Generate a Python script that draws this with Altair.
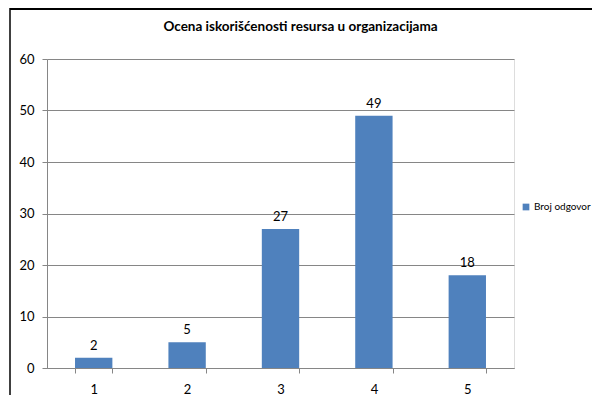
import altair as alt
import pandas as pd

categories = ["1", "2", "3", "4", "5"]
values = [2, 5, 27, 49, 18]
series_name = "Broj odgovor"
title_text = "Ocena iskorišćenosti resursa u organizacijama"
y_ticks = [0, 10, 20, 30, 40, 50, 60]

df = pd.DataFrame({"ocena": categories, "broj": values, "serija": [series_name] * len(categories)})

FONT = "Lato"
GRID = "#868686"

x_enc = alt.X(
    "ocena:N",
    sort=categories,
    title=None,
    scale=alt.Scale(paddingInner=0.6, paddingOuter=0.3),
    axis=alt.Axis(
        labelAngle=0, tickBand="extent", tickSize=5, labelPadding=10,
        domainColor=GRID, tickColor=GRID, labelFontSize=13, labelColor="#000000",
        labelFont=FONT, grid=False,
    ),
)
y_enc = alt.Y(
    "broj:Q",
    title=None,
    scale=alt.Scale(domain=[0, 60], nice=False),
    axis=alt.Axis(
        values=y_ticks, tickSize=5, labelPadding=8, domainColor=GRID, tickColor=GRID,
        gridColor=GRID, grid=True, labelFontSize=13, labelColor="#000000", labelFont=FONT,
    ),
)

bars = alt.Chart(df).mark_bar(color="#4F81BD").encode(
    x=x_enc,
    y=y_enc,
    color=alt.Color(
        "serija:N",
        scale=alt.Scale(domain=[series_name], range=["#4F81BD"]),
        legend=alt.Legend(
            title=None, orient="none", legendX=474, legendY=143, symbolType="square",
            symbolSize=45, labelFontSize=10, labelFont=FONT, labelColor="#000000",
            padding=0, symbolStrokeWidth=0, labelOffset=3,
        ),
    ),
)

labels = alt.Chart(df).mark_text(
    baseline="alphabetic", dy=-8, fontSize=13, font=FONT, color="#000000"
).encode(x=alt.X("ocena:N", sort=categories), y="broj:Q", text="broj:Q")

frame_data = alt.Data(values=[{"a": 1}])
frame_top = alt.Chart(frame_data).mark_rule(color="#000000", strokeWidth=2).encode(
    x=alt.value(-37), x2=alt.value(600), y=alt.value(-50)
)
frame_left = alt.Chart(frame_data).mark_rule(color="#000000", strokeWidth=1.5).encode(
    x=alt.value(-37), y=alt.value(-51), y2=alt.value(400)
)

chart = alt.layer(bars, labels, frame_top, frame_left).properties(
    width=467,
    height=309,
    autosize=alt.AutoSizeParams(type="none"),
    padding={"left": 39, "top": 51, "right": 78, "bottom": 27},
    title=alt.TitleParams(
        title_text, anchor="middle", dx=20, offset=-37, baseline="alphabetic",
        fontSize=13.5, font=FONT, fontWeight="bold", color="#000000",
    ),
).configure_view(stroke=None).configure(background="white")

chart.save("out.html", embed_options={"renderer": "svg", "actions": False})
